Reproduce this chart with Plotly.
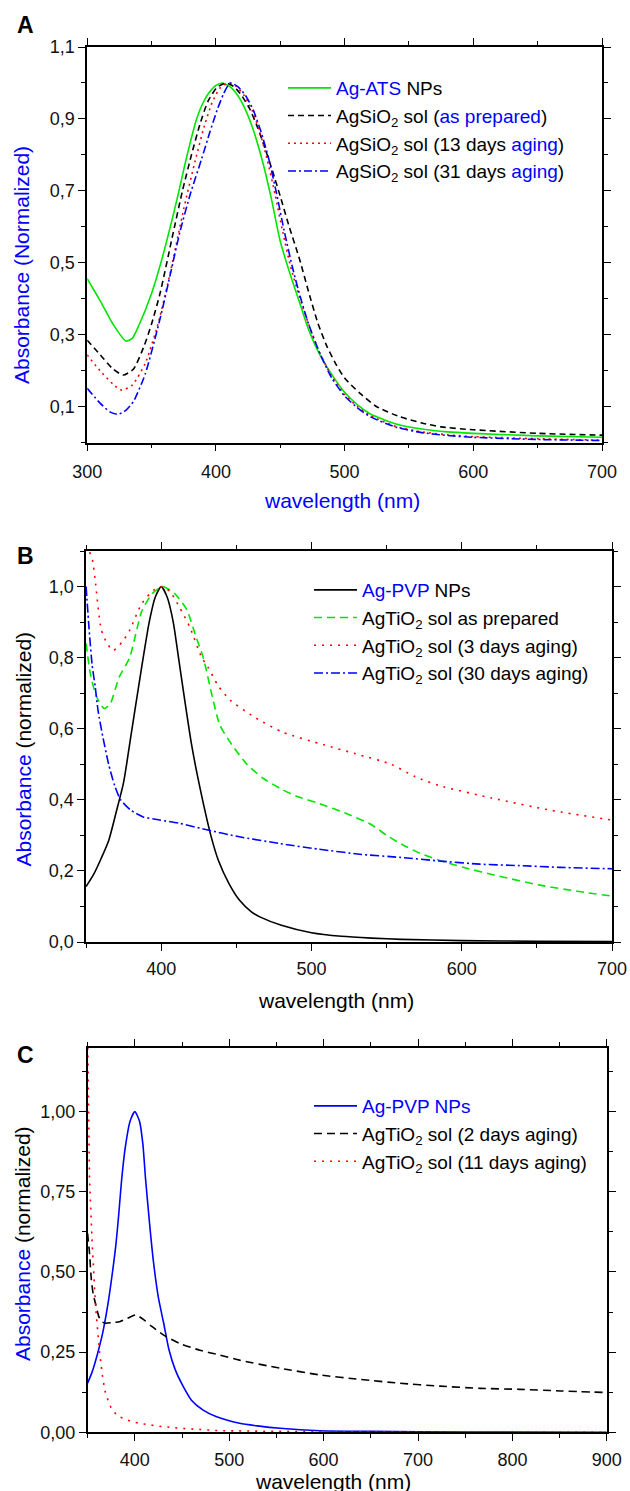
import plotly.graph_objects as go

# ---------------- DATA ----------------
# Panel A (wavelength nm, normalized absorbance)
a_ats_x = [300, 310, 320, 330, 335, 340, 350, 358, 370, 377, 385, 390, 395, 400, 405, 411, 417, 423, 429, 436, 443, 450, 458, 465, 472, 480, 490, 500, 510, 520, 540, 560, 580, 600, 650, 700]
a_ats_y = [0.456, 0.395, 0.33, 0.283, 0.29, 0.325, 0.415, 0.51, 0.68, 0.79, 0.90, 0.945, 0.975, 0.993, 1.0, 0.99, 0.965, 0.925, 0.87, 0.785, 0.68, 0.56, 0.465, 0.39, 0.315, 0.25, 0.19, 0.14, 0.105, 0.08, 0.052, 0.038, 0.030, 0.026, 0.019, 0.015]

a_prep_x = [300, 310, 320, 328, 336, 344, 350, 356.6, 366, 374, 381, 388, 394, 401, 408, 414, 420, 426, 432, 438, 444, 450, 457, 465, 472, 479, 486, 493, 500, 512, 525, 543, 560, 575, 600, 650, 700]
a_prep_y = [0.285, 0.245, 0.205, 0.188, 0.205, 0.267, 0.33, 0.415, 0.57, 0.70, 0.80, 0.89, 0.95, 0.988, 1.0, 0.99, 0.965, 0.93, 0.88, 0.82, 0.755, 0.685, 0.60, 0.51, 0.42, 0.335, 0.27, 0.22, 0.18, 0.137, 0.10, 0.072, 0.055, 0.044, 0.036, 0.026, 0.021]

a_13d_x = [300, 310, 320, 327, 335, 345, 355, 365, 375, 384, 391, 397, 403, 410, 416, 422, 428, 434, 440, 446, 452, 458, 465, 472, 480, 490, 500, 510, 520, 540, 560, 580, 600, 650, 700]
a_13d_y = [0.244, 0.20, 0.163, 0.146, 0.16, 0.22, 0.33, 0.48, 0.65, 0.785, 0.88, 0.945, 0.985, 1.0, 0.99, 0.965, 0.925, 0.865, 0.785, 0.69, 0.585, 0.49, 0.405, 0.33, 0.255, 0.185, 0.135, 0.10, 0.075, 0.045, 0.030, 0.022, 0.017, 0.011, 0.007]

a_31d_x = [300, 310, 318, 324, 330, 336, 345, 357, 365, 372, 380, 389, 395, 401, 406, 411, 417, 423, 429, 435, 441, 447, 453, 460, 466, 472, 480, 490, 500, 510, 520, 540, 560, 580, 600, 650, 700]
a_31d_y = [0.151, 0.11, 0.085, 0.079, 0.09, 0.115, 0.19, 0.35, 0.475, 0.585, 0.69, 0.79, 0.86, 0.925, 0.97, 1.0, 0.99, 0.965, 0.925, 0.865, 0.79, 0.695, 0.59, 0.48, 0.40, 0.33, 0.255, 0.18, 0.13, 0.097, 0.072, 0.043, 0.028, 0.020, 0.015, 0.009, 0.006]

# Panel B
b_pvp_x = [350, 355, 360, 365, 370, 375, 380, 385, 388, 392, 396, 400, 404, 408, 411.5, 416, 420, 424, 428, 433, 438, 445, 452, 460, 466, 480, 500, 520, 540, 560, 600, 650, 700]
b_pvp_y = [0.156, 0.19, 0.235, 0.285, 0.365, 0.45, 0.585, 0.72, 0.80, 0.90, 0.97, 1.0, 0.97, 0.90, 0.80, 0.67, 0.56, 0.47, 0.39, 0.30, 0.23, 0.165, 0.118, 0.085, 0.07, 0.047, 0.026, 0.016, 0.011, 0.0075, 0.004, 0.002, 0.001]

b_prep_x = [350, 353, 357, 362, 366, 372, 379, 387, 394, 401, 409, 417, 423, 428, 434, 439, 447, 457, 468, 480, 490, 505, 524, 540, 550, 560, 572, 585, 601, 625, 652, 678, 700]
b_prep_y = [0.84, 0.75, 0.69, 0.657, 0.67, 0.745, 0.80, 0.93, 0.98, 1.0, 0.98, 0.935, 0.86, 0.80, 0.69, 0.61, 0.555, 0.50, 0.46, 0.43, 0.41, 0.39, 0.36, 0.33, 0.30, 0.275, 0.25, 0.23, 0.21, 0.185, 0.16, 0.142, 0.129]

b_3d_x = [350, 352, 354, 356, 360, 364, 368, 374, 379, 387, 395, 401, 406, 412, 419, 427, 431, 438, 446, 463, 481, 508, 529, 553, 569, 585, 620, 660, 700]
b_3d_y = [1.14, 1.10, 1.08, 1.02, 0.88, 0.84, 0.82, 0.844, 0.877, 0.952, 0.99, 1.0, 0.985, 0.943, 0.886, 0.80, 0.774, 0.72, 0.68, 0.63, 0.59, 0.555, 0.53, 0.50, 0.465, 0.44, 0.405, 0.37, 0.343]

b_30d_x = [350, 352, 354, 356, 358, 361, 365, 369, 373, 380, 388, 399, 412, 431, 452, 479, 505, 532, 559, 585, 612, 638, 665, 700]
b_30d_y = [1.0, 0.88, 0.78, 0.72, 0.65, 0.58, 0.50, 0.44, 0.40, 0.37, 0.352, 0.343, 0.334, 0.315, 0.296, 0.277, 0.261, 0.247, 0.238, 0.228, 0.219, 0.215, 0.21, 0.206]

# Panel C
c_pvp_x = [350, 355, 360.6, 366, 371, 375, 379.7, 383, 386, 390, 395, 400, 405, 408.5, 411.5, 416, 420, 425, 430.6, 436, 443, 450, 460, 472, 486, 511, 530, 554, 596, 650, 750, 900]
c_pvp_y = [0.153, 0.19, 0.246, 0.31, 0.39, 0.47, 0.578, 0.68, 0.786, 0.89, 0.97, 1.0, 0.97, 0.90, 0.786, 0.64, 0.526, 0.42, 0.34, 0.26, 0.194, 0.15, 0.10, 0.07, 0.049, 0.028, 0.02, 0.0125, 0.005, 0.003, 0.001, 0.0]

c_2d_x = [350, 352, 354, 356, 358.5, 362, 365, 369, 376, 384, 392, 401, 410, 418, 430.6, 447.6, 468.8, 490, 511, 553.6, 596, 638.5, 681, 723, 766, 808, 850.6, 900]
c_2d_y = [0.62, 0.56, 0.475, 0.43, 0.40, 0.36, 0.345, 0.34, 0.342, 0.345, 0.355, 0.366, 0.35, 0.33, 0.303, 0.277, 0.256, 0.241, 0.225, 0.20, 0.179, 0.165, 0.153, 0.144, 0.137, 0.134, 0.129, 0.124]

c_11d_x = [350, 350.5, 351, 352, 355, 358.5, 362.7, 366, 369, 375, 382, 395, 405, 425, 448, 490, 550, 650, 900]
c_11d_y = [1.25, 1.15, 1.0, 0.79, 0.58, 0.39, 0.25, 0.17, 0.12, 0.075, 0.05, 0.035, 0.028, 0.019, 0.0125, 0.005, 0.003, 0.001, 0.0]

# tick labels
a_yticks = [0.1, 0.3, 0.5, 0.7, 0.9, 1.1]
b_yticks = [0.0, 0.2, 0.4, 0.6, 0.8, 1.0]
c_yticks = [0.0, 0.25, 0.5, 0.75, 1.0]

# ---------------- FIGURE ----------------
W, H = 630, 1491
FONT = "Liberation Sans, Arial, sans-serif"
BLUE = "#0000ff"


def px(x):
    return x / W


def py(y):
    return 1 - y / H


def blue(t):
    return f"<span style='color:{BLUE}'>{t}</span>"


fig = go.Figure()


def add(x, y, name, color, dash, xa, ya, leg, shape="spline"):
    fig.add_trace(go.Scatter(
        x=x, y=y, mode="lines", name=name, xaxis=xa, yaxis=ya, legend=leg,
        line=dict(color=color, width=1.6, dash=dash, shape=shape, smoothing=0.6),
        hoverinfo="skip"))


add(a_ats_x, a_ats_y, blue("Ag-ATS") + " NPs", "#00e600", "solid", "x", "y", "legend")
add(a_prep_x, a_prep_y, "AgSiO<sub>2</sub> sol (" + blue("as prepared") + ")", "black", "6px,4px", "x", "y", "legend")
add(a_13d_x, a_13d_y, "AgSiO<sub>2</sub> sol (13 days " + blue("aging") + ")", "#ff0000", "2px,4px", "x", "y", "legend")
add(a_31d_x, a_31d_y, "AgSiO<sub>2</sub> sol (31 days " + blue("aging") + ")", BLUE, "8px,3px,2px,3px", "x", "y", "legend")

add(b_pvp_x, b_pvp_y, blue("Ag-PVP") + " NPs", "black", "solid", "x2", "y2", "legend2")
add(b_prep_x, b_prep_y, "AgTiO<sub>2</sub> sol as prepared", "#00e600", "8px,5px", "x2", "y2", "legend2")
add(b_3d_x, b_3d_y, "AgTiO<sub>2</sub> sol (3 days aging)", "#ff0000", "2px,6px", "x2", "y2", "legend2")
add(b_30d_x, b_30d_y, "AgTiO<sub>2</sub> sol (30 days aging)", BLUE, "9px,3px,2px,3px", "x2", "y2", "legend2")

add(c_pvp_x, c_pvp_y, blue("Ag-PVP NPs"), BLUE, "solid", "x3", "y3", "legend3")
add(c_2d_x, c_2d_y, "AgTiO<sub>2</sub> sol (2 days aging)", "black", "8px,5px", "x3", "y3", "legend3")
add(c_11d_x, c_11d_y, "AgTiO<sub>2</sub> sol (11 days aging)", "#ff0000", "2px,6px", "x3", "y3", "legend3", shape="linear")

axis_common = dict(
    showline=True, linecolor="black", linewidth=1.5, mirror="ticks",
    ticks="outside", ticklen=7, tickwidth=1.3, tickcolor="black",
    showgrid=False, zeroline=False, automargin=False,
    tickfont=dict(family=FONT, size=18, color="#111111"),
)


def minor(d):
    return dict(ticks="outside", ticklen=4, tickwidth=1.2, tickcolor="black", dtick=d, showgrid=False)


layout = dict(
    width=W, height=H, autosize=False,
    margin=dict(l=0, r=0, t=0, b=0),
    paper_bgcolor="white", plot_bgcolor="white",
    separators=",.",
    font=dict(family=FONT, color="black"),
    showlegend=True,
    xaxis=dict(domain=[px(87.2), px(602)], anchor="y", range=[300, 700], dtick=100,
               minor=minor(50), ticklabelstandoff=5, **axis_common),
    yaxis=dict(domain=[py(442.7), py(47)], anchor="x", range=[0, 1.1],
               tickvals=a_yticks, tickformat=".1f", minor=minor(0.1), **axis_common),
    xaxis2=dict(domain=[px(86.1), px(612)], anchor="y2", range=[350, 700], dtick=100, tick0=0,
                minor=minor(50), ticklabelstandoff=3, **axis_common),
    yaxis2=dict(domain=[py(942), py(551)], anchor="x2", range=[0, 1.1],
                tickvals=b_yticks, tickformat=".1f", minor=minor(0.1), **axis_common),
    xaxis3=dict(domain=[px(87.6), px(606.8)], anchor="y3", range=[350, 900], dtick=100, tick0=0,
                minor=minor(50), ticklabelstandoff=3, **axis_common),
    yaxis3=dict(domain=[py(1432.3), py(1047.5)], anchor="x3", range=[0, 1.2],
                tickvals=c_yticks, tickformat=".2f", minor=minor(0.125), **axis_common),
)

leg_common = dict(bgcolor="rgba(0,0,0,0)", borderwidth=0, font=dict(family=FONT, size=19, color="black"),
                  xanchor="left", yanchor="top", itemwidth=43, tracegroupgap=0, traceorder="normal")
layout["legend"] = dict(x=px(283), y=py(69), **leg_common)
layout["legend2"] = dict(x=px(309), y=py(571), **leg_common)
layout["legend3"] = dict(x=px(309), y=py(1087), **leg_common)

fig.update_layout(**layout)

annotations = []
for letter, yy in [("A", 25), ("B", 556), ("C", 1055)]:
    annotations.append(dict(text=f"<b>{letter}</b>", x=px(25), y=py(yy), xref="paper", yref="paper",
                            xanchor="center", yanchor="middle", showarrow=False,
                            font=dict(family=FONT, size=23, color="black")))

# axis titles
annotations.append(dict(text=blue("wavelength (nm)"), x=px(341.5), y=py(500), xref="paper", yref="paper",
                        xanchor="center", yanchor="middle", showarrow=False, font=dict(family=FONT, size=21)))
annotations.append(dict(text="wavelength (nm)", x=px(336), y=py(1000), xref="paper", yref="paper",
                        xanchor="center", yanchor="middle", showarrow=False, font=dict(family=FONT, size=21, color="black")))
annotations.append(dict(text="wavelength (nm)", x=px(333), y=py(1481), xref="paper", yref="paper",
                        xanchor="center", yanchor="middle", showarrow=False, font=dict(family=FONT, size=21, color="black")))
annotations.append(dict(text=blue("Absorbance (Normalized)"), x=px(22), y=py(265), xref="paper", yref="paper",
                        xanchor="center", yanchor="middle", textangle=-90, showarrow=False, font=dict(family=FONT, size=21)))
annotations.append(dict(text=blue("Absorbance") + " (normalized)", x=px(22.5), y=py(749), xref="paper", yref="paper",
                        xanchor="center", yanchor="middle", textangle=-90, showarrow=False, font=dict(family=FONT, size=21, color="black")))
annotations.append(dict(text=blue("Absorbance") + " (normalized)", x=px(22), y=py(1244), xref="paper", yref="paper",
                        xanchor="center", yanchor="middle", textangle=-90, showarrow=False, font=dict(family=FONT, size=21, color="black")))

fig.update_layout(annotations=annotations)
fig.write_html("out.html", config={"displayModeBar": False},
               post_script="document.body.style.margin='0';document.body.style.overflow='hidden';")
